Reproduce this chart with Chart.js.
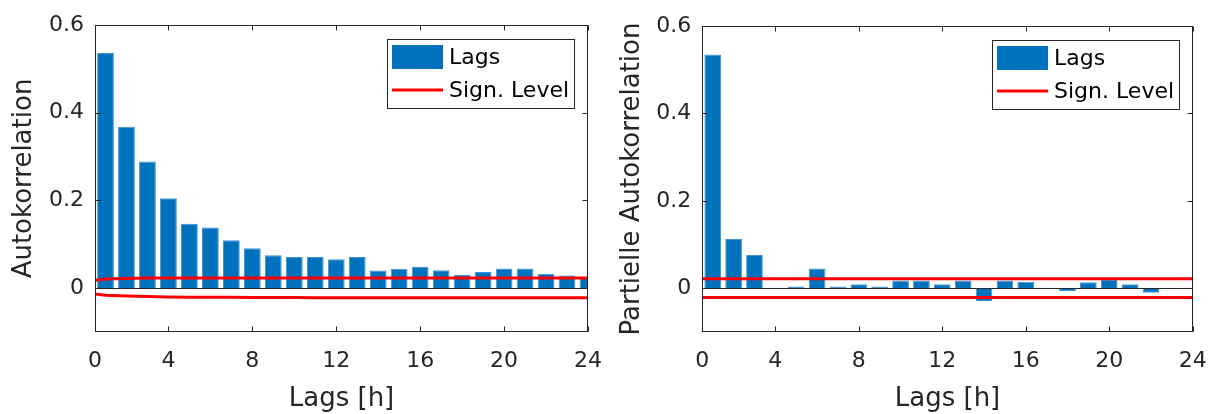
<!DOCTYPE html>
<html>
<head>
<meta charset="utf-8">
<script src="https://cdn.jsdelivr.net/npm/chart.js@4.4.1/dist/chart.umd.min.js"></script>
<style>
  html, body { margin: 0; padding: 0; background: #ffffff; }
  #wrap { position: relative; width: 1208px; height: 414px; overflow: hidden; }
  .panel { position: absolute; top: 0; width: 604px; height: 414px; }
</style>
</head>
<body>
<div id="wrap">
  <div class="panel" style="left:0px"><canvas id="acf" width="604" height="414"></canvas></div>
  <div class="panel" style="left:604px"><canvas id="pacf" width="604" height="414"></canvas></div>
</div>
<script>
// ---------------- data ----------------
const lags = [1, 2, 3, 4, 5, 6, 7, 8, 9, 10, 11, 12, 13, 14, 15, 16, 17, 18, 19, 20, 21, 22, 23, 24];
const acfValues = [0.536, 0.368, 0.289, 0.205, 0.147, 0.138, 0.109, 0.091, 0.075, 0.071, 0.071, 0.066,
                   0.071, 0.040, 0.044, 0.049, 0.041, 0.030, 0.037, 0.045, 0.045, 0.033, 0.029, 0.025];
const pacfValues = [0.535, 0.113, 0.076, 0.001, 0.004, 0.045, 0.004, 0.009, 0.004, 0.018, 0.018, 0.009,
                    0.018, -0.029, 0.018, 0.015, 0.001, -0.006, 0.014, 0.019, 0.009, -0.010, -0.002, 0.001];

const signLagsAcf = [0, 1, 2, 3, 4, 5, 6, 7, 8, 9, 10, 11, 12, 13, 14, 15, 16, 17, 18, 19, 20, 21, 22, 23, 24];
const signUpperAcf = [0.015, 0.021, 0.022, 0.023, 0.023, 0.023, 0.023, 0.023, 0.023, 0.023, 0.023, 0.023, 0.023,
                      0.023, 0.023, 0.023, 0.023, 0.023, 0.023, 0.023, 0.023, 0.023, 0.023, 0.023, 0.023];
const signLowerAcf = [-0.011, -0.016, -0.018, -0.019, -0.020, -0.0205, -0.021, -0.021, -0.0215, -0.0215, -0.0215, -0.022, -0.022,
                      -0.022, -0.022, -0.022, -0.022, -0.022, -0.022, -0.022, -0.022, -0.022, -0.022, -0.022, -0.022];

const signLagsPacf = [0, 24];
const signUpperPacf = [0.022, 0.022];
const signLowerPacf = [-0.021, -0.021];

const xTickValues = [0.5, 4, 8, 12, 16, 20, 24];
const xTickLabels = ['0', '4', '8', '12', '16', '20', '24'];
const yTickValues = [0, 0.2, 0.4, 0.6];
const yTickLabels = ['0', '0.2', '0.4', '0.6'];

const seriesLabels = ['Lags', 'Sign. Level'];
const xTitle = 'Lags [h]';
const yTitles = ['Autokorrelation', 'Partielle Autokorrelation'];

// ---------------- style ----------------
const FONT = 'DejaVu Sans';
const AXIS_COLOR = '#262626';
const BAR_COLOR = '#0072BD';
const BAR_EDGE = '#3f93d2';
const SIGN_COLOR = '#ff0000';

Chart.defaults.font.family = FONT;
Chart.defaults.color = AXIS_COLOR;

const pts = (xs, ys) => xs.map((x, i) => ({ x: x, y: ys[i] }));

// MATLAB-like box, inward ticks, zero baseline
const axesBox = {
  id: 'axesBox',
  afterDatasetsDraw(chart) {
    const { ctx, chartArea: a, scales: { x, y } } = chart;
    ctx.save();
    ctx.strokeStyle = AXIS_COLOR;
    ctx.lineWidth = 1;
    const L = Math.round(a.left) + 0.5, R = Math.round(a.right) - 0.5;
    const T = Math.round(a.top) + 0.5, B = Math.round(a.bottom) - 0.5;
    const seg = (x1, y1, x2, y2) => { ctx.beginPath(); ctx.moveTo(x1, y1); ctx.lineTo(x2, y2); ctx.stroke(); };
    const y0 = Math.round(y.getPixelForValue(0)) + 0.5;
    seg(L, y0, R, y0);
    ctx.strokeRect(L, T, R - L, B - T);
    const tl = 5;
    x.ticks.forEach(t => {
      const px = Math.round(x.getPixelForValue(t.value)) + 0.5;
      seg(px, B, px, B - tl);
      seg(px, T, px, T + tl);
    });
    y.ticks.forEach(t => {
      const py = Math.round(y.getPixelForValue(t.value)) + 0.5;
      seg(L, py, L + tl, py);
      seg(R, py, R - tl, py);
    });
    ctx.restore();
  }
};

// legend drawn inside the axes (north-east), MATLAB style
const boxLegend = {
  id: 'boxLegend',
  afterDraw(chart) {
    const { ctx, chartArea: a } = chart;
    const ds = chart.data.datasets;
    const items = [
      { label: ds[0].label, kind: 'box', color: ds[0].backgroundColor },
      { label: ds[1].label, kind: 'line', color: ds[1].borderColor }
    ];
    ctx.save();
    ctx.font = '22px "' + FONT + '"';
    const textW = Math.max(...items.map(it => ctx.measureText(it.label).width));
    const pad = 5, sw = 51, sh = 24, gap = 6, rowStep = 33;
    const w = pad + sw + gap + textW + pad;
    const h = 69;
    const left = Math.round(a.right - 14 - w);
    const top = Math.round(a.top + 14);
    ctx.fillStyle = '#ffffff';
    ctx.fillRect(left, top, w, h);
    ctx.strokeStyle = AXIS_COLOR;
    ctx.lineWidth = 1;
    ctx.strokeRect(left + 0.5, top + 0.5, w, h);
    items.forEach((it, i) => {
      const cy = top + 18 + i * rowStep;
      const sx = left + pad;
      if (it.kind === 'box') {
        ctx.fillStyle = it.color;
        ctx.fillRect(sx, cy - sh / 2, sw, sh);
      } else {
        ctx.strokeStyle = it.color;
        ctx.lineWidth = 3;
        ctx.beginPath();
        ctx.moveTo(sx, cy);
        ctx.lineTo(sx + sw, cy);
        ctx.stroke();
      }
      ctx.fillStyle = '#000000';
      ctx.textAlign = 'left';
      ctx.textBaseline = 'middle';
      ctx.fillText(it.label, sx + sw + gap, cy + 1.5);
    });
    ctx.restore();
  }
};

function makeChart(id, values, sLags, sUp, sLo, yTitle, geo) {
  return new Chart(document.getElementById(id), {
    type: 'bar',
    data: {
      datasets: [
        {
          type: 'bar', label: seriesLabels[0], data: pts(lags, values),
          backgroundColor: BAR_COLOR, borderColor: BAR_EDGE, borderWidth: 1,
          barPercentage: 0.8, categoryPercentage: 1.0, clip: 0, order: 2
        },
        {
          type: 'line', label: seriesLabels[1], data: pts(sLags, sUp),
          borderColor: SIGN_COLOR, borderWidth: 3, pointRadius: 0, fill: false,
          tension: 0, clip: 0, order: 1
        },
        {
          type: 'line', label: seriesLabels[1], data: pts(sLags, sLo),
          borderColor: SIGN_COLOR, borderWidth: 3, pointRadius: 0, fill: false,
          tension: 0, clip: 0, order: 1
        }
      ]
    },
    options: {
      responsive: false,
      animation: false,
      devicePixelRatio: 1,
      events: [],
      layout: { padding: { top: geo.top, right: geo.right, bottom: 0, left: 0 } },
      plugins: { legend: { display: false }, tooltip: { enabled: false } },
      scales: {
        x: {
          type: 'linear', min: 0.5, max: 24, offset: false,
          afterBuildTicks: s => { s.ticks = xTickValues.map(v => ({ value: v })); },
          afterFit: s => { s.height = 82; s.paddingLeft = 0; s.paddingRight = 0; },
          grid: { display: false, drawTicks: false, offset: false },
          border: { display: false },
          ticks: {
            autoSkip: false, maxRotation: 0, padding: 16,
            font: { size: 22 }, color: AXIS_COLOR,
            callback: v => xTickLabels[xTickValues.indexOf(v)]
          },
          title: {
            display: true, text: xTitle, color: AXIS_COLOR,
            font: { size: 26, lineHeight: 1 }, padding: { top: 0, bottom: 2 }
          }
        },
        y: {
          type: 'linear', min: -0.1, max: 0.6,
          afterBuildTicks: s => { s.ticks = yTickValues.map(v => ({ value: v })); },
          afterFit: s => { s.width = geo.yWidth; s.paddingTop = 0; s.paddingBottom = 0; },
          grid: { display: false, drawTicks: false },
          border: { display: false },
          ticks: {
            padding: 11, font: { size: 22 }, color: AXIS_COLOR,
            callback: v => yTickLabels[yTickValues.indexOf(v)]
          },
          title: {
            display: true, text: yTitle, color: AXIS_COLOR,
            font: { size: 26, lineHeight: 1 }, padding: { top: geo.titlePad, bottom: 0 }
          }
        }
      }
    },
    plugins: [axesBox, boxLegend]
  });
}

makeChart('acf', acfValues, signLagsAcf, signUpperAcf, signLowerAcf, yTitles[0],
          { top: 25, right: 16, yWidth: 95, titlePad: 11 });
makeChart('pacf', pacfValues, signLagsPacf, signUpperPacf, signLowerPacf, yTitles[1],
          { top: 26, right: 15.3, yWidth: 98.3, titlePad: 15 });
</script>
</body>
</html>
